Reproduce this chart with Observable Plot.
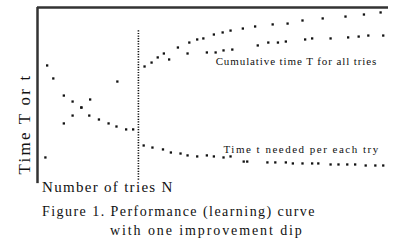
<!DOCTYPE html>
<html>
<head>
<meta charset="utf-8">
<script src="https://cdn.jsdelivr.net/npm/d3@7"></script>
<script src="https://cdn.jsdelivr.net/npm/@observablehq/plot@0.6"></script>
<style>
  html, body { margin: 0; padding: 0; background: #fff; }
  #wrap { position: relative; width: 414px; height: 245px; overflow: hidden; font-family: "Liberation Serif", "DejaVu Serif", serif; color: #111; }
  #chart { position: absolute; left: 0; top: 0; }
  .lbl { position: absolute; white-space: nowrap; }
  .lab-up text { letter-spacing: 0.9px; }
  .lab-low text { letter-spacing: 1.5px; }
</style>
</head>
<body>
<div id="wrap">
  <div id="chart"></div>
  <div class="lbl" id="ylab" style="left:25px; top:124px; font-size:17px; transform: translate(-50%,-50%) rotate(-90deg); letter-spacing:2.2px;">Time T or t</div>
  <div class="lbl" style="left:42px; top:179px; font-size:15px; letter-spacing:1.3px;">Number of tries N</div>
  <div class="lbl" style="left:42px; top:204px; font-size:14px; letter-spacing:1.45px;">Figure 1. Performance (learning) curve</div>
  <div class="lbl" style="left:110px; top:223px; font-size:14px; letter-spacing:1.9px;">with one improvement dip</div>
</div>
<script>
// Number of tries N and time values (arbitrary units)
const cumN = [0.9, 3.0, 4.0, 5.0, 6.0, 9.1, 12.2, 13.0, 13.7, 14.4, 16.0, 17.3, 18.2, 18.9, 20.1, 21.1, 22.0, 23.4, 24.8, 26.8, 28.5, 30.2, 32.5, 35.1, 37.2, 39.1];
const cumT = [12.3, 32.2, 36.8, 41.5, 46.2, 56.7, 65.5, 67.8, 70.8, 73.1, 76.6, 79.5, 81.3, 81.9, 84.2, 85.4, 86.5, 87.7, 88.9, 90.1, 90.6, 92.4, 93.6, 94.7, 95.9, 97.1];

const cum2N = [15.0, 17.1, 19.3, 20.3, 21.2, 22.2, 25.1, 26.3, 27.4, 28.3, 30.5, 31.3, 33.4, 35.4, 36.6, 37.7, 39.4];
const cum2T = [69.6, 73.1, 73.7, 73.7, 74.9, 75.4, 77.8, 79.5, 79.5, 80.1, 81.3, 81.9, 81.9, 82.5, 83.0, 83.6, 83.6];

const tryN = [1.1, 1.8, 3.0, 4.0, 5.0, 5.9, 7.0, 8.1, 9.0, 10.1, 10.9, 12.1, 13.1, 14.3, 15.2, 16.3, 17.1, 18.2, 19.3, 20.1, 21.2, 22.0, 23.5, 23.9, 26.2, 27.1, 28.3, 29.1, 30.2, 31.3, 32.0, 33.4, 34.3, 35.3, 36.2, 37.4, 38.5, 39.4];
const tryT = [66.1, 58.5, 48.5, 45.0, 41.5, 36.8, 34.5, 32.2, 30.4, 28.7, 28.7, 19.3, 18.1, 17.0, 15.2, 14.6, 13.5, 12.9, 13.5, 12.9, 12.3, 12.9, 9.9, 9.9, 9.4, 9.4, 9.4, 8.8, 8.8, 8.8, 8.8, 8.2, 8.2, 8.2, 8.2, 7.6, 7.6, 7.6];

const dipN = [11.5];
const labels = ["Cumulative time T for all tries", "Time t needed per each try"];

const cum = cumN.map((n, i) => ({n, v: cumT[i]}));
const cum2 = cum2N.map((n, i) => ({n, v: cum2T[i]}));
const tries = tryN.map((n, i) => ({n, v: tryT[i]}));

const chart = Plot.plot({
  width: 414,
  height: 186,
  marginLeft: 37,
  marginRight: 26,
  marginTop: 7,
  marginBottom: 8,
  x: {domain: [0, 40], axis: null},
  y: {domain: [0, 100], axis: null},
  style: {background: "#fff", overflow: "visible"},
  marks: [
    Plot.ruleX(dipN, {x: d => d, y1: -1, y2: 87, stroke: "#111", strokeWidth: 1.6, strokeDasharray: "1.2,1.4"}),
    Plot.dot(cum, {x: "n", y: "v", symbol: "square", r: 1.3, fill: "#111", stroke: null}),
    Plot.dot(cum2, {x: "n", y: "v", symbol: "square", r: 1.3, fill: "#111", stroke: null}),
    Plot.dot(tries, {x: "n", y: "v", symbol: "square", r: 1.3, fill: "#111", stroke: null}),
    Plot.text([labels[0]], {x: 20.3, y: 68.4, text: d => d, textAnchor: "start", fontSize: 11, fontFamily: "Liberation Serif", fill: "#111", className: "lab-up"}),
    Plot.text([labels[1]], {x: 21.2, y: 17.0, text: d => d, textAnchor: "start", fontSize: 11, fontFamily: "Liberation Serif", fill: "#111", className: "lab-low"}),
    Plot.ruleX([0], {y1: -3, y2: 100, stroke: "#333", strokeWidth: 2.5}),
    Plot.ruleY([100], {x1: 0, x2: 40, stroke: "#333", strokeWidth: 2.5})
  ]
});
document.getElementById("chart").appendChild(chart);
</script>
</body>
</html>
